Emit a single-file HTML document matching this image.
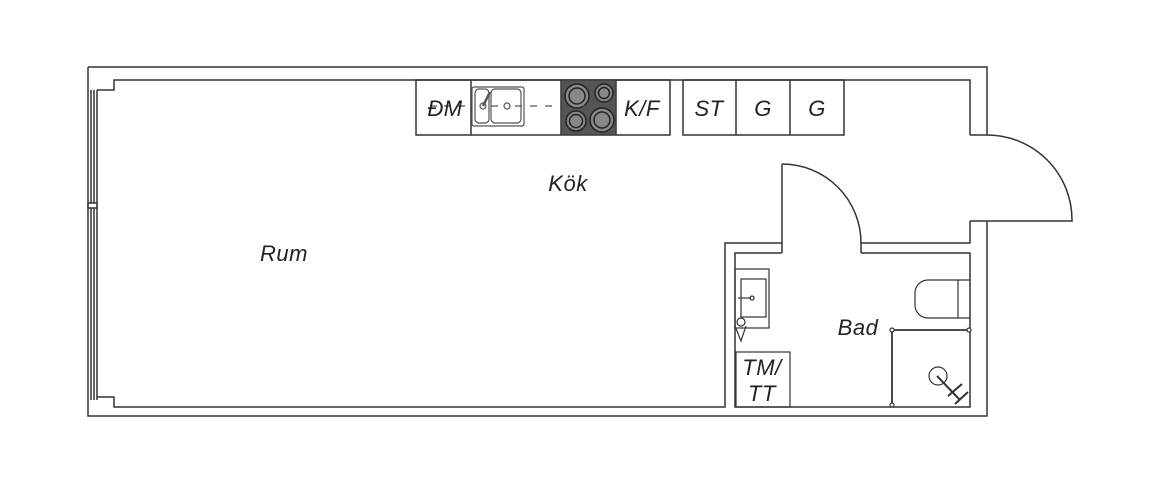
<!DOCTYPE html>
<html><head><meta charset="utf-8"><style>
html,body{margin:0;padding:0;background:#fff;}
svg{display:block}
text{font-family:"Liberation Sans",sans-serif;font-style:italic;fill:#222;letter-spacing:0.5px;}
</style></head><body>
<svg width="1160" height="483" viewBox="0 0 1160 483" xmlns="http://www.w3.org/2000/svg">
<g fill="none" stroke="#333" stroke-width="1.5">
<path d="M88 67 H987 V135"/>
<path d="M987 221 V416 H88 V67"/>
<path d="M97 90 H114 V80 H970 V135"/>
<path d="M970 221 V243 H861"/>
<path d="M782 243 H725 V407 H114 V397 H97"/>
<path d="M91 90 V400 M94 90 V400 M97 90 V400"/>
<rect x="88" y="203" width="9" height="5" fill="#fff"/>
<path d="M861 253 H970 V407 H735 V253 H782"/>
<path d="M782 253 V164"/>
<path d="M782 164 A79 79 0 0 1 861 243 V253"/>
<path d="M970 221 H1072 A85 85 0 0 0 987 135 H970"/>
<rect x="416" y="80" width="254" height="55"/>
<path d="M471 80 V135 M561 80 V135 M616 80 V135"/>
<rect x="683" y="80" width="161" height="55"/>
<path d="M736 80 V135 M790 80 V135"/>
</g>
<rect x="561" y="80" width="55" height="55" fill="#555" stroke="#333"/>
<g stroke="#222" stroke-width="1.5" fill="#888">
<circle cx="577" cy="96" r="12"/><circle cx="577" cy="96" r="8"/>
<circle cx="604" cy="93" r="9"/><circle cx="604" cy="93" r="5.5"/>
<circle cx="576" cy="121" r="10"/><circle cx="576" cy="121" r="6.5"/>
<circle cx="602" cy="120" r="12"/><circle cx="602" cy="120" r="8"/>
</g>
<g fill="none" stroke="#555" stroke-width="1.2">
<rect x="472" y="87" width="52" height="39" rx="2"/>
<rect x="475" y="89" width="14" height="34" rx="4"/>
<rect x="491" y="89" width="30" height="34" rx="4"/>
<circle cx="483" cy="106" r="3"/><circle cx="507" cy="106" r="3"/>
<path d="M483 106 L490 92" stroke-width="2.5"/>
<path d="M430 106 H471 M491 106 H500 M515 106 H522 M530 106 H538 M545 106 H553 M583 106 H590 M600 106 H616" stroke-dasharray="7 7"/>
</g>
<g fill="none" stroke="#333" stroke-width="1.2">
<rect x="735" y="269" width="34" height="59"/>
<rect x="741" y="279" width="25" height="38"/>
<path d="M738 298 H751"/><circle cx="752" cy="298" r="2"/>
<circle cx="741" cy="322" r="4"/><path d="M735 326 L741 341 L746 326"/>
<path d="M970 280 H928 A13 13 0 0 0 915 293 V305 A13 13 0 0 0 928 318 H970 M958 280 V318"/>
<path d="M892 405 V330 H968 M894 330 H970" stroke-width="1.8"/>
<circle cx="892" cy="330" r="2" fill="#fff"/><circle cx="969" cy="330" r="2" fill="#fff"/><circle cx="892" cy="405" r="2" fill="#fff"/>
<circle cx="938" cy="376" r="9"/>
<path d="M937 376 L960 400 M948 396 L962 384 M955 404 L968 392" stroke-width="2"/>
<rect x="736" y="352" width="54" height="55"/>
</g>
<text x="284" y="261" font-size="22" text-anchor="middle">Rum</text>
<text x="568" y="191" font-size="22" text-anchor="middle">Kök</text>
<text x="858" y="335" font-size="22" text-anchor="middle">Bad</text>
<text x="762" y="375" font-size="22" text-anchor="middle">TM/</text>
<text x="762" y="401" font-size="22" text-anchor="middle">TT</text>
<text x="445" y="116" font-size="22" text-anchor="middle">ÐM</text>
<text x="642" y="116" font-size="22" text-anchor="middle">K/F</text>
<text x="709" y="116" font-size="22" text-anchor="middle">ST</text>
<text x="763" y="116" font-size="22" text-anchor="middle">G</text>
<text x="817" y="116" font-size="22" text-anchor="middle">G</text>
</svg>
</body></html>
